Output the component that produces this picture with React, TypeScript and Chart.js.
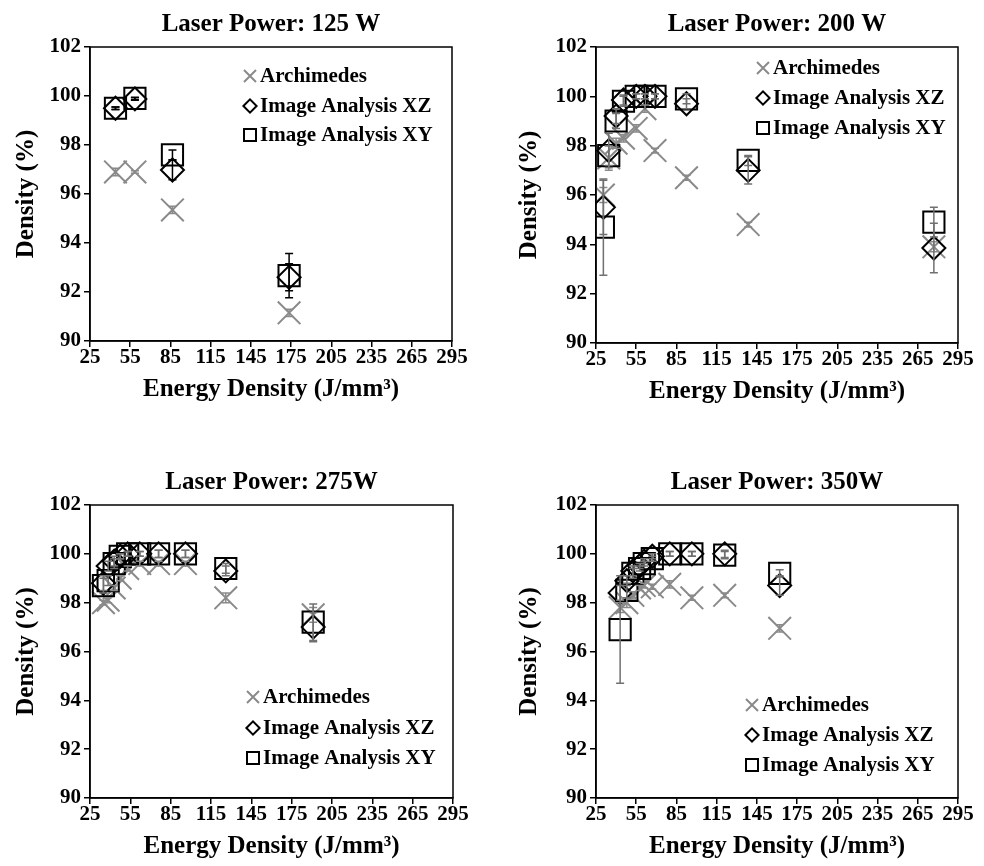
import React, { useEffect, useRef } from "react";
import { Chart, registerables } from "chart.js";

Chart.register(...registerables);

const FONT = "'Liberation Serif', 'Times New Roman', Times, serif";

// ---- Laser Power: 125 W ----
const p125Energy = [44, 58.5, 86.5, 173.5];
const p125Arch = [96.9, 96.9, 95.35, 91.15];
const p125ArchErr = [0.15, 0.05, 0.15, 0.15];
const p125XZ = [99.5, 99.88, 96.98, 92.6];
const p125XZErr = [0.05, 0.05, 0.4, 0.55];
const p125XY = [99.5, 99.9, 97.6, 92.67];
const p125XYErr = [0.05, 0.05, 0.2, 0.9];

// ---- Laser Power: 200 W ----
const p200Energy = [30.5, 34.5, 40, 45.5, 55, 61.5, 69, 92.5, 138.5, 277];
const p200Arch = [96.0, 97.5, 98.1, 98.3, 98.7, 99.5, 97.8, 96.7, 94.8, 93.9];
const p200ArchErr = [0.3, 0.5, 0.2, 0.15, 0.15, 0.15, 0.1, 0.1, 0.1, 0.2];
const p200XZ = [95.5, 97.8, 99.2, 99.85, 100.0, 100.0, 100.0, 99.7, 97.0, 93.85];
const p200XZErr = [1.1, 0.7, 0.3, 0.2, 0.1, 0.1, 0.1, 0.2, 0.55, 1.0];
const p200XY = [94.7, 97.6, 99.0, 99.8, 100.0, 100.0, 100.0, 99.9, 97.4, 94.9];
const p200XYErr = [1.95, 0.4, 0.3, 0.2, 0.1, 0.1, 0.1, 0.2, 0.2, 0.6];

// ---- Laser Power: 275W ----
const p275Energy = [35, 38.5, 43, 47.5, 53, 62, 76, 96, 126, 191];
const p275Arch = [98.0, 98.1, 98.6, 99.0, 99.4, 99.6, 99.6, 99.6, 98.2, 97.5];
const p275ArchErr = [0.1, 0.1, 0.1, 0.1, 0.1, 0.1, 0.1, 0.1, 0.2, 0.3];
const p275XZ = [98.8, 99.5, 99.7, 99.9, 100.0, 100.0, 100.0, 100.0, 99.3, 97.0];
const p275XZErr = [0.3, 0.2, 0.2, 0.1, 0.1, 0.1, 0.15, 0.15, 0.2, 0.6];
const p275XY = [98.7, 98.9, 99.6, 99.9, 100.0, 100.0, 100.0, 100.0, 99.4, 97.2];
const p275XYErr = [0.3, 0.2, 0.2, 0.1, 0.1, 0.1, 0.15, 0.15, 0.2, 0.75];

// ---- Laser Power: 350W ----
const p350Energy = [43, 48, 52.5, 57.5, 61, 67, 80, 96.5, 121, 162];
const p350Arch = [97.8, 98.0, 98.3, 98.6, 98.7, 98.65, 98.75, 98.2, 98.3, 96.95];
const p350ArchErr = [0.2, 0.2, 0.15, 0.1, 0.1, 0.1, 0.15, 0.1, 0.1, 0.15];
const p350XZ = [98.4, 98.9, 99.3, 99.5, 99.7, 99.9, 100.0, 100.0, 100.0, 98.7];
const p350XZErr = [0.3, 0.2, 0.2, 0.1, 0.1, 0.1, 0.1, 0.1, 0.15, 0.4];
const p350XY = [96.9, 98.5, 99.2, 99.4, 99.6, 99.8, 100.0, 100.0, 99.95, 99.2];
const p350XYErr = [2.2, 0.3, 0.2, 0.1, 0.1, 0.1, 0.1, 0.1, 0.15, 0.15];

const seriesNames = ["Archimedes", "Image Analysis XZ", "Image Analysis XY"];
const titles = ["Laser Power: 125 W", "Laser Power: 200 W", "Laser Power: 275W", "Laser Power: 350W"];
const xTitle = "Energy Density (J/mm\u00B3)";
const yTitle = "Density (%)";
const xMin = 25, xMax = 295, xStep = 30;
const yMin = 90, yMax = 102, yStep = 2;

const GRAY = "#8a8a8a";
const ERR_GRAY = "#707070";

type PanelData = {
  energy: number[];
  arch: number[]; archErr: number[];
  xz: number[]; xzErr: number[];
  xy: number[]; xyErr: number[];
};

const panelData: PanelData[] = [
  { energy: p125Energy, arch: p125Arch, archErr: p125ArchErr, xz: p125XZ, xzErr: p125XZErr, xy: p125XY, xyErr: p125XYErr },
  { energy: p200Energy, arch: p200Arch, archErr: p200ArchErr, xz: p200XZ, xzErr: p200XZErr, xy: p200XY, xyErr: p200XYErr },
  { energy: p275Energy, arch: p275Arch, archErr: p275ArchErr, xz: p275XZ, xzErr: p275XZErr, xy: p275XY, xyErr: p275XYErr },
  { energy: p350Energy, arch: p350Arch, archErr: p350ArchErr, xz: p350XZ, xzErr: p350XZErr, xy: p350XY, xyErr: p350XYErr },
];

// layout (presentation only)
const CW = 492, CH = 433, XAXIS_H = 64;
const layouts = [
  { left: 0, top: 0, area: { l: 90, t: 47, r: 452, b: 341 }, yTitlePad: 12, legend: { mx: 160, rows: [29, 59, 88] }, errDark: "#000" },
  { left: 492, top: 0, area: { l: 104, t: 47, r: 466, b: 343 }, yTitlePad: 23, legend: { mx: 167, rows: [21, 51, 81] }, errDark: ERR_GRAY },
  { left: 0, top: 433, area: { l: 90, t: 72, r: 453, b: 365 }, yTitlePad: 12, legend: { mx: 163, rows: [192, 223, 253] }, errDark: ERR_GRAY },
  { left: 492, top: 433, area: { l: 104, t: 72, r: 466, b: 365 }, yTitlePad: 23, legend: { mx: 156, rows: [200, 230, 260] }, errDark: ERR_GRAY },
];

function drawMarker(ctx: CanvasRenderingContext2D, kind: number, x: number, y: number, s: number) {
  ctx.save();
  ctx.lineWidth = 2;
  ctx.beginPath();
  if (kind === 0) {
    ctx.strokeStyle = GRAY;
    ctx.moveTo(x - s, y - s); ctx.lineTo(x + s, y + s);
    ctx.moveTo(x + s, y - s); ctx.lineTo(x - s, y + s);
  } else if (kind === 1) {
    ctx.strokeStyle = "#000";
    const d = s * 1.1;
    ctx.moveTo(x - d, y); ctx.lineTo(x, y - d); ctx.lineTo(x + d, y); ctx.lineTo(x, y + d); ctx.closePath();
  } else {
    ctx.strokeStyle = "#000";
    ctx.rect(x - s, y - s, 2 * s, 2 * s);
  }
  ctx.stroke();
  ctx.restore();
}

function Panel({ idx }: { idx: number }) {
  const ref = useRef<HTMLCanvasElement>(null);
  useEffect(() => {
    const d = panelData[idx];
    const L = layouts[idx];
    const mk = (ys: number[], errs: number[]) => ys.map((y, i) => ({ x: d.energy[i], y, err: errs[i] }));
    const errColors = [GRAY, L.errDark, L.errDark];

    const panelPlugin = {
      id: "panelDecor" + idx,
      afterDatasetsDraw(chart: any) {
        const { ctx, chartArea } = chart;
        const xs = chart.scales.x, ys = chart.scales.y;
        ctx.save();
        chart.data.datasets.forEach((ds: any, di: number) => {
          ctx.strokeStyle = errColors[di];
          ctx.lineWidth = 1.5;
          ds.data.forEach((p: any) => {
            if (!p.err) return;
            const px = xs.getPixelForValue(p.x);
            const y1 = ys.getPixelForValue(p.y - p.err);
            const y2 = ys.getPixelForValue(p.y + p.err);
            ctx.beginPath();
            ctx.moveTo(px, y1); ctx.lineTo(px, y2);
            ctx.moveTo(px - 4, y1); ctx.lineTo(px + 4, y1);
            ctx.moveTo(px - 4, y2); ctx.lineTo(px + 4, y2);
            ctx.stroke();
          });
        });
        ctx.strokeStyle = "#000";
        ctx.lineWidth = 1.5;
        ctx.strokeRect(chartArea.left, chartArea.top, chartArea.right - chartArea.left, chartArea.bottom - chartArea.top);
        ctx.restore();
      },
      afterDraw(chart: any) {
        const { ctx, chartArea } = chart;
        ctx.save();
        ctx.fillStyle = "#000";
        ctx.font = `bold 25px ${FONT}`;
        ctx.textAlign = "center";
        ctx.textBaseline = "alphabetic";
        ctx.fillText(titles[idx], (chartArea.left + chartArea.right) / 2, chartArea.top - 16);
        ctx.font = `bold 21px ${FONT}`;
        ctx.textAlign = "left";
        ctx.textBaseline = "middle";
        seriesNames.forEach((name, i) => {
          const mx = chartArea.left + L.legend.mx;
          const my = chartArea.top + L.legend.rows[i];
          drawMarker(ctx, i, mx, my, 6);
          ctx.fillStyle = "#000";
          ctx.fillText(name, mx + 10, my + 1);
        });
        ctx.restore();
      },
    };

    const chart = new Chart(ref.current as HTMLCanvasElement, {
      type: "scatter",
      data: {
        datasets: [
          {
            label: seriesNames[0],
            data: mk(d.arch, d.archErr),
            pointStyle: "crossRot",
            pointRadius: 16,
            pointBorderColor: GRAY,
            pointBackgroundColor: "rgba(0,0,0,0)",
            pointBorderWidth: 2,
            borderColor: GRAY,
            showLine: false,
            order: 3,
          },
          {
            label: seriesNames[1],
            data: mk(d.xz, d.xzErr),
            pointStyle: "rectRot",
            pointRadius: 11.5,
            pointBorderColor: "#000",
            pointBackgroundColor: "rgba(0,0,0,0)",
            pointBorderWidth: 2,
            borderColor: "#000",
            showLine: false,
            order: 2,
          },
          {
            label: seriesNames[2],
            data: mk(d.xy, d.xyErr),
            pointStyle: "rect",
            pointRadius: 15,
            pointBorderColor: "#000",
            pointBackgroundColor: "rgba(0,0,0,0)",
            pointBorderWidth: 2,
            borderColor: "#000",
            showLine: false,
            order: 1,
          },
        ] as any,
      },
      options: {
        responsive: false,
        animation: false,
        events: [],
        layout: {
          padding: {
            left: 0,
            top: L.area.t,
            right: CW - L.area.r,
            bottom: CH - L.area.b - XAXIS_H,
          },
        },
        plugins: {
          legend: { display: false },
          title: { display: false },
          tooltip: { enabled: false },
        },
        scales: {
          x: {
            type: "linear",
            min: xMin,
            max: xMax,
            afterFit: (s: any) => { s.height = XAXIS_H; },
            ticks: {
              stepSize: xStep,
              color: "#000",
              padding: 0,
              font: { family: FONT, size: 21, weight: "bold", lineHeight: 1 },
            },
            grid: { display: true, drawOnChartArea: false, drawTicks: true, tickLength: 6, color: "#000", lineWidth: 1.5 },
            border: { display: true, color: "#000", width: 1.5 },
            title: {
              display: true,
              text: xTitle,
              color: "#000",
              font: { family: FONT, size: 25, weight: "bold", lineHeight: 1.2 },
              padding: { top: 0, bottom: 0 },
            },
          },
          y: {
            type: "linear",
            min: yMin,
            max: yMax,
            afterFit: (s: any) => { s.width = L.area.l; },
            ticks: {
              stepSize: yStep,
              color: "#000",
              padding: 3,
              font: { family: FONT, size: 21, weight: "bold", lineHeight: 1 },
            },
            grid: { display: true, drawOnChartArea: false, drawTicks: true, tickLength: 6, color: "#000", lineWidth: 1.5 },
            border: { display: true, color: "#000", width: 1.5 },
            title: {
              display: true,
              text: yTitle,
              color: "#000",
              font: { family: FONT, size: 25, weight: "bold", lineHeight: 1.2 },
              padding: { top: L.yTitlePad, bottom: 0 },
            },
          },
        },
      } as any,
      plugins: [panelPlugin],
    });
    return () => chart.destroy();
  }, [idx]);

  const L = layouts[idx];
  return (
    <div style={{ position: "absolute", left: L.left, top: L.top, width: CW, height: CH }}>
      <canvas ref={ref} width={CW} height={CH} style={{ display: "block", width: CW, height: CH }} />
    </div>
  );
}

export default function App() {
  return (
    <div style={{ position: "absolute", left: 0, top: 0, width: 984, height: 866, background: "#fff" }}>
      {[0, 1, 2, 3].map((i) => (
        <Panel key={i} idx={i} />
      ))}
    </div>
  );
}
